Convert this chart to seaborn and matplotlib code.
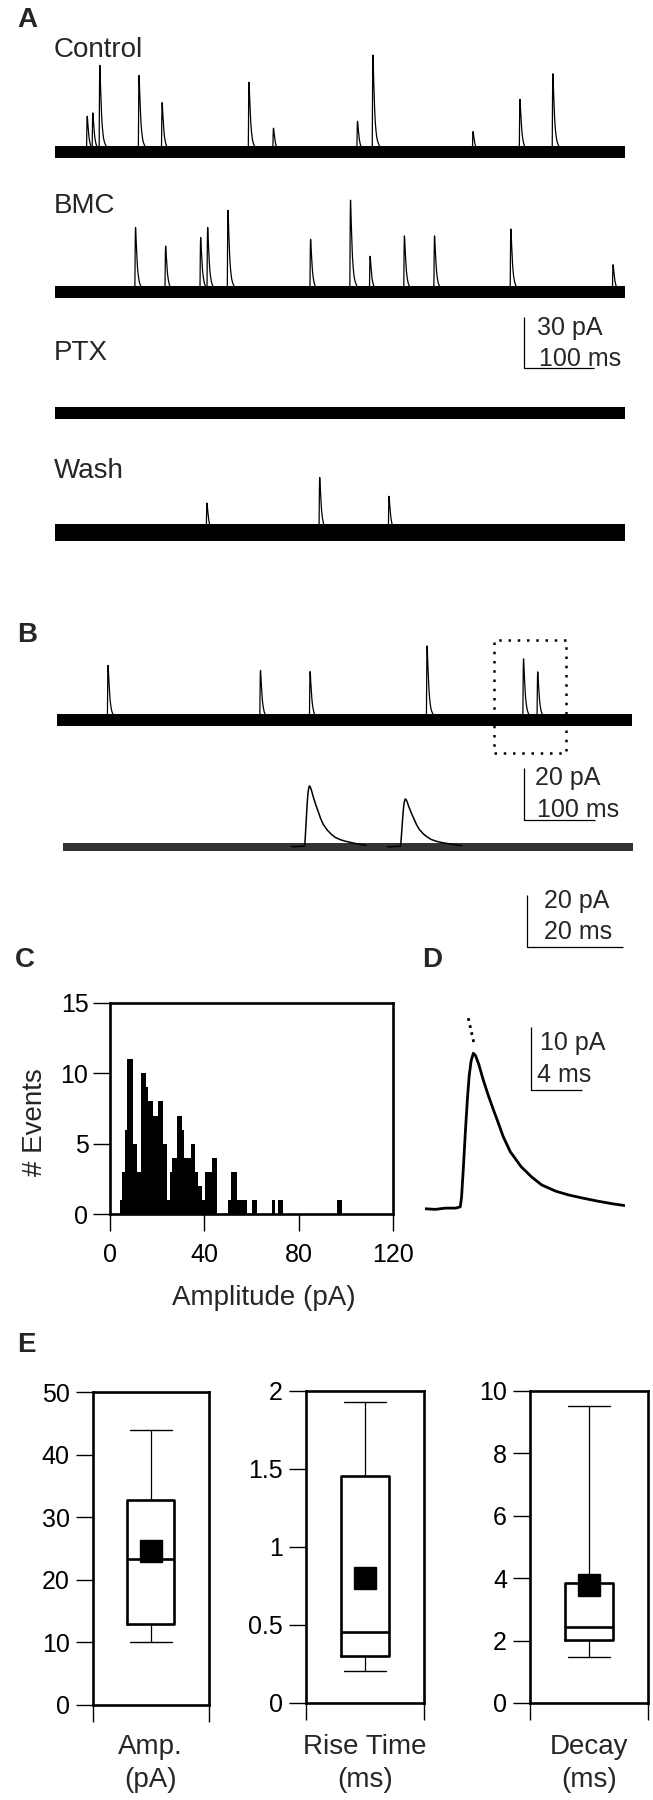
import numpy as np
import pandas as pd
import matplotlib
matplotlib.use('Agg')
import matplotlib.pyplot as plt
import seaborn as sns

sns.set_style('ticks')
plt.rcParams['font.family'] = ['Liberation Sans', 'DejaVu Sans']
plt.rcParams['axes.linewidth'] = 1.9
plt.rcParams['xtick.major.size'] = 12.5
plt.rcParams['ytick.major.size'] = 12.5
plt.rcParams['xtick.major.width'] = 1.0
plt.rcParams['ytick.major.width'] = 1.0
plt.rcParams['xtick.labelsize'] = 18
plt.rcParams['ytick.labelsize'] = 18
plt.rcParams['xtick.color'] = 'black'
plt.rcParams['ytick.color'] = 'black'
plt.rcParams['axes.edgecolor'] = 'black'

W, H = 653, 1800

# ---------------- data ----------------
# averaged mIPSC (panel D): time (ms), current (pA)
d_t = [0.0, 0.8, 1.6, 2.4, 2.75, 2.85, 3.0, 3.15, 3.3, 3.45, 3.6, 3.77, 3.95,
       4.2, 4.55, 4.95, 5.35, 5.75, 6.1, 6.65, 7.5, 8.3, 9.1, 10.2, 11.2,
       12.3, 13.5, 14.6, 15.6]
d_amp = [0.2, 0.1, 0.3, 0.3, 0.5, 2.0, 7.0, 12.5, 17.5, 21.5, 23.8, 25.0, 24.6,
         23.2, 20.7, 18.2, 15.9, 13.7, 11.7, 9.3, 6.9, 5.3, 4.0, 3.0, 2.4,
         1.9, 1.4, 1.0, 0.7]
d_peak_t = 3.77
d_peak = 25.0
# extrapolated decay fit (dotted)
fit_t = [3.38, 3.50, 3.62, 3.74, 3.85]
fit_amp = [30.6, 29.5, 28.4, 27.3, 26.3]

# panel A: event peak times (ms) and amplitudes (pA)
ctrl_t = [46, 54, 64, 120, 153, 277, 312, 432, 454, 597, 664, 711]
ctrl_amp = [21, 23, 51, 45, 29, 41, 14, 18, 57, 12, 31, 46]
bmc_t = [115, 158, 208, 218, 247, 365, 422, 450, 499, 542, 651, 797]
bmc_amp = [38, 27, 32, 38, 48, 31, 54, 21, 33, 33, 37, 16]
ptx_t = []
ptx_amp = []
wash_t = [217, 378, 477]
wash_amp = [17, 32, 21]
trace_names = ['Control', 'BMC', 'PTX', 'Wash']
trace_noise = [3.5, 3.3, 3.6, 5.0]   # pA, half width of baseline noise

# panel B
b_t = [72, 287, 357, 522, 658, 678]
b_amp = [21, 19, 18.6, 28.5, 23.5, 18.5]
b_zoom_win = [606.5, 725.5]
b_box_t = [616, 718]
b_box_pa = [-12.7, 30.8]

# panel C: amplitude histogram (bin edges in pA, counts)
hist_edges = [4.2, 5.2, 6.2, 7.3, 9.9, 11.6, 13.1, 15.1, 16.2, 18.3, 20.2, 22.3,
              24.3, 25.4, 26.4, 28.2, 30.4, 31.4, 34.2, 36.0, 37.4, 39.2, 40.2,
              43.1, 45.2, 50.1, 51.3, 53.7, 58.2, 60.1, 62.2, 68.6, 70.0, 71.4,
              73.2, 96.3, 98.3]
hist_counts = [1, 3, 6, 11, 5, 3, 10, 9, 8, 7, 8, 5, 1, 3, 4, 7, 6, 4, 5, 3, 2,
               1, 3, 4, 0, 1, 3, 1, 0, 1, 0, 1, 0, 1, 0, 1]

# panel E: box statistics
box_top = ['Amp.', 'Rise Time', 'Decay']
box_bottom = ['(pA)', '(ms)', '(ms)']
box_whislo = [10.05, 0.203, 1.46]
box_q1 = [12.9, 0.299, 2.03]
box_med = [23.35, 0.4525, 2.45]
box_q3 = [32.8, 1.456, 3.84]
box_whishi = [44.0, 1.93, 9.52]
box_mean = [24.6, 0.80, 3.79]
box_ylim = [50, 2, 10]
box_yticks = [[0, 10, 20, 30, 40, 50], [0, 0.5, 1, 1.5, 2], [0, 2, 4, 6, 8, 10]]
box_yticklabels = [['0', '10', '20', '30', '40', '50'],
                   ['0', '0.5', '1', '1.5', '2'],
                   ['0', '2', '4', '6', '8', '10']]

# scale bars (pA, ms)
scale_a = (30, 100)
scale_b1 = (20, 100)
scale_b2 = (20, 20)
scale_d = (10, 4)

# ---------------- figure ----------------
fig = plt.figure(figsize=(W / 100, H / 100), dpi=100)


def add_ax(x0, y0, x1, y1):
    return fig.add_axes([x0 / W, 1 - y1 / H, (x1 - x0) / W, (y1 - y0) / H])


def at(ax, px, py):
    return ax.transData.inverted().transform((px, H - py))


def ftext(px, py, s, size=18, **kw):
    fig.text(px / W, 1 - py / H, s, fontsize=size, va='baseline', **kw)


def trace_ax(x0, x1, y0, y1, t0, t1, base_py, px_per_pa):
    ax = add_ax(x0, y0, x1, y1)
    ax.set_xlim(t0, t1)
    ax.set_ylim((base_py - y1) / px_per_pa, (base_py - y0) / px_per_pa)
    ax.axis('off')
    return ax


def draw_trace(ax, times, amps, offset, noise, t0, t1, lw=0.9, band='black'):
    ax.fill_between([t0, t1], offset - noise, offset + noise, color=band, lw=0)
    rows = []
    for i, (tp, a) in enumerate(zip(times, amps)):
        for tt, yy in zip(d_t, d_amp):
            rows.append((i, tp + tt - d_peak_t, offset + a * yy / d_peak))
    if rows:
        df = pd.DataFrame(rows, columns=['ev', 't', 'y'])
        sns.lineplot(data=df, x='t', y='y', units='ev', estimator=None,
                     color='black', lw=lw, ax=ax, legend=False)
    ax.set_xlim(t0, t1)


def scale_bar(ax, px, py, pa, ms, lw=0.9):
    x0, y0 = at(ax, px, py)
    ax.plot([x0, x0, x0 + ms], [y0 + pa, y0, y0], color='black', lw=lw,
            clip_on=False, solid_capstyle='butt')


# ---- panel A ----
a_base = [152, 292, 413, 532]
a_ppa = 1.7
axA = trace_ax(55, 625, 30, 560, 0, 814, a_base[0], a_ppa)
a_events = [(ctrl_t, ctrl_amp), (bmc_t, bmc_amp), (ptx_t, ptx_amp), (wash_t, wash_amp)]
for (tt, aa), bp, nz in zip(a_events, a_base, trace_noise):
    draw_trace(axA, tt, aa, (a_base[0] - bp) / a_ppa, nz, 0, 814)
axA.set_ylim((a_base[0] - 560) / a_ppa, (a_base[0] - 30) / a_ppa)
scale_bar(axA, 524, 368, *scale_a)
for name, py in zip(trace_names, [57, 213, 360, 478]):
    ftext(54, py, name, size=20)
ftext(537, 335, f'{scale_a[0]} pA')
ftext(539, 366, f'{scale_a[1]} ms')
ftext(17, 27, 'A', size=20, fontweight='bold')

# ---- panel B ----
axB1 = trace_ax(57, 632, 600, 830, 0, 811, 720, 2.6)
draw_trace(axB1, b_t, b_amp, 0, 2.3, 0, 811)
axB1.set_ylim((720 - 830) / 2.6, (720 - 600) / 2.6)
axB1.plot([b_box_t[0], b_box_t[1], b_box_t[1], b_box_t[0], b_box_t[0]],
          [b_box_pa[0], b_box_pa[0], b_box_pa[1], b_box_pa[1], b_box_pa[0]],
          color='black', lw=1.8, ls=(0, (1, 2.7)))
scale_bar(axB1, 524, 820, *scale_b1)
ftext(535, 785, f'{scale_b1[0]} pA')
ftext(537, 817, f'{scale_b1[1]} ms')

axB2 = trace_ax(62.5, 633, 780, 960, b_zoom_win[0], b_zoom_win[1], 847, 2.6)
draw_trace(axB2, b_t, b_amp, 0, 1.4, b_zoom_win[0], b_zoom_win[1], lw=1.1, band='0.2')
axB2.set_ylim((847 - 960) / 2.6, (847 - 780) / 2.6)
scale_bar(axB2, 527, 947, *scale_b2)
ftext(544, 908, f'{scale_b2[0]} pA')
ftext(544, 939, f'{scale_b2[1]} ms')
ftext(17, 642, 'B', size=20, fontweight='bold')

# ---- panel C ----
axC = add_ax(110, 1003, 393, 1214)
centers = [(a + b) / 2 for a, b in zip(hist_edges[:-1], hist_edges[1:])]
sns.histplot(x=centers, weights=hist_counts, bins=hist_edges, element='step',
             fill=True, color='black', alpha=1, linewidth=0, ax=axC)
axC.set_xlim(0, 120)
axC.set_ylim(0, 15)
axC.set_xticks([0, 40, 80, 120])
axC.set_yticks([0, 5, 10, 15])
axC.tick_params(axis='x', pad=8.5)
axC.tick_params(axis='y', pad=3)
for s in axC.spines.values():
    s.set_visible(True)
    s.set_linewidth(1.9)
axC.set_xlabel('Amplitude (pA)', fontsize=20, va='baseline')
axC.xaxis.set_label_coords(0.544, -0.431)
axC.set_ylabel('# Events', fontsize=20, va='center', ha='center')
axC.yaxis.set_label_coords(-0.265, 0.436)
ftext(15, 967, 'C', size=20, fontweight='bold')

# ---- panel D ----
axD = trace_ax(425, 625, 1000, 1225, 0, 15.6, 1210, 6.27)
sns.lineplot(x=d_t, y=d_amp, color='black', lw=2.0, ax=axD, sort=False)
axD.plot(fit_t, fit_amp, color='black', lw=2.0, ls=(0, (1, 1.6)))
axD.set_xlim(0, 15.6)
axD.set_ylim((1210 - 1225) / 6.27, (1210 - 1000) / 6.27)
scale_bar(axD, 531, 1090, *scale_d)
ftext(540, 1050, f'{scale_d[0]} pA')
ftext(537, 1082, f'{scale_d[1]} ms')
ftext(422, 967, 'D', size=20, fontweight='bold')

# ---- panel E ----
e_boxes = [(92.5, 1392, 209, 1705), (306, 1391, 424, 1703), (530, 1391, 648, 1703)]
for i, (x0, y0, x1, y1) in enumerate(e_boxes):
    ax = add_ax(x0, y0, x1, y1)
    stats = [dict(whislo=box_whislo[i], q1=box_q1[i], med=box_med[i],
                  q3=box_q3[i], whishi=box_whishi[i], mean=box_mean[i], fliers=[])]
    ax.bxp(stats, positions=[0], widths=0.4, capwidths=0.36, showmeans=True,
           showfliers=False,
           boxprops=dict(color='black', lw=1.9),
           medianprops=dict(color='black', lw=1.9),
           whiskerprops=dict(color='black', lw=0.9),
           capprops=dict(color='black', lw=1.0),
           meanprops=dict(marker='s', markersize=15.5, markerfacecolor='black',
                          markeredgecolor='black', zorder=5))
    ax.set_xlim(-0.5, 0.5)
    ax.set_ylim(0, box_ylim[i])
    ax.set_xticks([-0.5, 0.5])
    ax.set_xticklabels(['', ''])
    ax.set_yticks(box_yticks[i])
    ax.set_yticklabels(box_yticklabels[i])
    ax.tick_params(axis='y', pad=4)
    for s in ax.spines.values():
        s.set_visible(True)
        s.set_linewidth(1.9)
    cx = (x0 + x1) / 2
    ftext(cx, 1754, box_top[i], size=20, ha='center')
    ftext(cx, 1787, box_bottom[i], size=20, ha='center')
ftext(17, 1352, 'E', size=20, fontweight='bold')

fig.savefig('out.png', dpi=100)
